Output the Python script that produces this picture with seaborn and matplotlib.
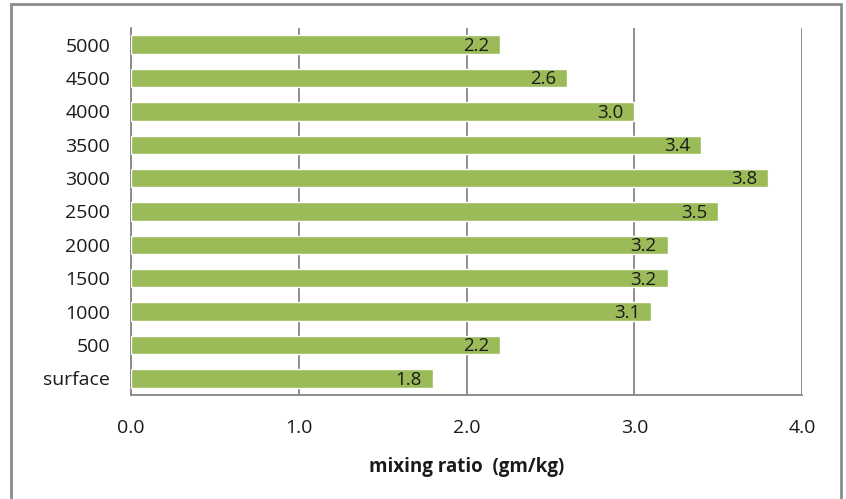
import matplotlib
matplotlib.use("Agg")
import matplotlib.pyplot as plt
import seaborn as sns
import pandas as pd
from matplotlib.patches import Rectangle

sns.set_style("white")
plt.rcParams['font.family'] = ['Open Sans', 'DejaVu Sans']

heights = ['5000', '4500', '4000', '3500', '3000', '2500', '2000', '1500', '1000', '500', 'surface']
mixing = [2.2, 2.6, 3.0, 3.4, 3.8, 3.5, 3.2, 3.2, 3.1, 2.2, 1.8]
xticks = [0.0, 1.0, 2.0, 3.0, 4.0]

df = pd.DataFrame({'height': heights, 'mixing': mixing})

fig = plt.figure(figsize=(8.46, 4.99), dpi=100)
ax = fig.add_axes([0.155, 0.2084, 0.793, 0.7356])

sns.barplot(data=df, x='mixing', y='height', orient='h', color='#9BBB59',
            saturation=1, width=0.55, ax=ax, zorder=3)

# value labels just inside the bar end
for i, v in enumerate(mixing):
    ax.annotate(f"{v:.1f}", xy=(v, i), xytext=(-8, -1), textcoords='offset points',
                ha='right', va='center', fontsize=13.5, color='#1a1a1a', zorder=4)

ax.set_xlim(0, 4)
ax.set_ylim(10.5, -0.5)
ax.set_xticks(xticks)
ax.set_xticklabels([f"{t:.1f}" for t in xticks])
ax.grid(axis='x', color='#868686', linewidth=1.3, zorder=1)
ax.grid(axis='y', visible=False)
ax.tick_params(axis='both', length=0, labelsize=14, colors='#1a1a1a')
ax.tick_params(axis='y', pad=15)
ax.tick_params(axis='x', pad=17)
ax.set_ylabel('')
ax.set_xlabel('mixing ratio  (gm/kg)', fontsize=13.5, fontweight='bold', labelpad=15, color='#1a1a1a')

for s in ['top', 'right']:
    ax.spines[s].set_visible(False)
for s in ['left', 'bottom']:
    ax.spines[s].set_color('#868686')
    ax.spines[s].set_linewidth(1.3)

# grey frame round the chart
fig.patches.append(Rectangle((0.013, -0.05), 0.981, 1.042, transform=fig.transFigure,
                             fill=False, edgecolor='#8c8c8c', linewidth=2))

fig.savefig('out.png', dpi=100)
